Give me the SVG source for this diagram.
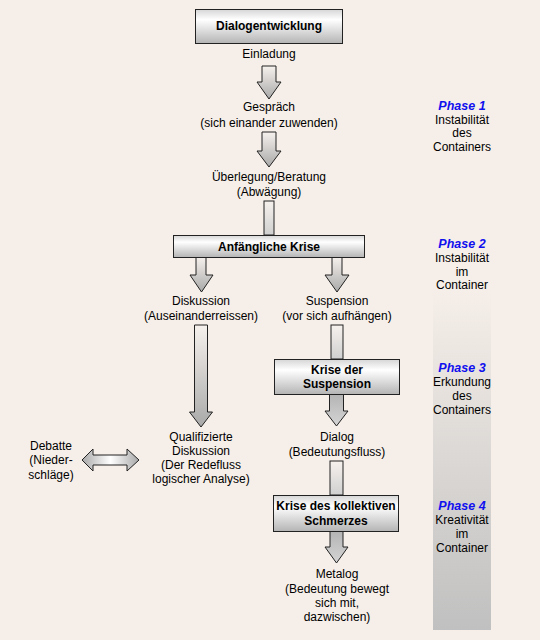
<svg xmlns="http://www.w3.org/2000/svg" width="540" height="640" viewBox="0 0 540 640">
<defs>
<linearGradient id="gBox" x1="0" y1="0" x2="0" y2="1">
<stop offset="0" stop-color="#d6d6d6"/><stop offset="0.3" stop-color="#ffffff"/><stop offset="1" stop-color="#b4b4b4"/>
</linearGradient>
<linearGradient id="gDown" x1="0" y1="0" x2="0" y2="1">
<stop offset="0" stop-color="#f6f1ed"/><stop offset="1" stop-color="#a9a9a9"/>
</linearGradient>
<linearGradient id="gShaft" x1="0" y1="0" x2="0" y2="1">
<stop offset="0" stop-color="#f6f1ed"/><stop offset="1" stop-color="#d0d0d0"/>
</linearGradient>
<linearGradient id="gGray" x1="0" y1="0" x2="0" y2="1">
<stop offset="0" stop-color="#b4b4b4"/><stop offset="1" stop-color="#d4d4d4"/>
</linearGradient>
<linearGradient id="gH" x1="0" y1="0" x2="1" y2="0">
<stop offset="0" stop-color="#a8a8a8"/><stop offset="0.5" stop-color="#ffffff"/><stop offset="1" stop-color="#a8a8a8"/>
</linearGradient>
<linearGradient id="gCol" x1="0" y1="0" x2="0" y2="1">
<stop offset="0" stop-color="#f6efe9"/><stop offset="1" stop-color="#c0c0c0"/>
</linearGradient>
</defs>
<style>
text{font-family:"Liberation Sans",Arial,sans-serif;font-size:12px;fill:#000;text-anchor:middle}
.b{font-weight:bold}
.ph{font-weight:bold;font-style:italic;fill:#1010ee;font-size:12.5px}
.box{fill:url(#gBox);stroke:#222;stroke-width:1}
.ar{stroke:#222;stroke-width:1;stroke-linejoin:miter}
</style>
<rect width="540" height="640" fill="#f6efe9"/>
<rect id="phase-column" x="433" y="290" width="58" height="340" fill="url(#gCol)"/>

<g id="connectors">
<path class="ar" fill="url(#gDown)" d="M262,66 H276 V82 H281 L269,99 L257,82 H262 Z"/>
<path class="ar" fill="url(#gDown)" d="M262,132 H276 V151 H281 L269,167 L257,151 H262 Z"/>
<rect class="ar" fill="url(#gShaft)" x="264" y="201" width="10" height="34"/>
<path class="ar" fill="url(#gDown)" d="M196,257 H206 V275 H213 L201.5,292 L190,275 H196 Z"/>
<path class="ar" fill="url(#gDown)" d="M332,257 H342 V275 H349 L337,292 L325,275 H332 Z"/>
<path class="ar" fill="url(#gDown)" d="M194.5,325 H207.5 V412 H212.5 L201,427 L189.5,412 H194.5 Z"/>
<rect class="ar" fill="url(#gShaft)" x="331" y="325" width="12" height="34"/>
<path class="ar" fill="url(#gGray)" d="M329.5,394 H343.5 V411 H348 L336.5,426 L325,411 H329.5 Z"/>
<rect class="ar" fill="url(#gShaft)" x="330" y="461" width="13" height="34"/>
<path class="ar" fill="url(#gGray)" d="M330,531 H343 V547 H348 L336.5,563 L325,547 H330 Z"/>
<path class="ar" fill="url(#gH)" d="M82,460 L93,449 V455 H127 V449 L139,460 L127,471 V465 H93 V471 Z"/>
</g>

<g id="dialogentwicklung"><rect class="box" x="195.5" y="9.5" width="147" height="34"/><text class="b" x="269" y="30">Dialogentwicklung</text></g>
<g id="einladung"><text x="269" y="58">Einladung</text></g>
<g id="gespraech"><text x="269" y="111">Gespräch</text><text x="269" y="127">(sich einander zuwenden)</text></g>
<g id="ueberlegung"><text x="269" y="181">Überlegung/Beratung</text><text x="269" y="196">(Abwägung)</text></g>
<g id="anfaengliche-krise"><rect class="box" x="173.5" y="235.5" width="191" height="22"/><text class="b" x="269" y="251">Anfängliche Krise</text></g>
<g id="diskussion"><text x="201" y="305">Diskussion</text><text x="201" y="320">(Auseinanderreissen)</text></g>
<g id="suspension"><text x="337" y="305">Suspension</text><text x="337" y="320">(vor sich aufhängen)</text></g>
<g id="krise-suspension"><rect class="box" x="274.5" y="359.5" width="125" height="35"/><text class="b" x="337" y="374">Krise der</text><text class="b" x="337" y="388">Suspension</text></g>
<g id="dialog"><text x="337" y="441">Dialog</text><text x="337" y="456">(Bedeutungsfluss)</text></g>
<g id="qualifizierte-diskussion"><text x="201" y="441">Qualifizierte</text><text x="201" y="455">Diskussion</text><text x="201" y="469">(Der Redefluss</text><text x="201" y="483">logischer Analyse)</text></g>
<g id="debatte"><text x="51" y="450">Debatte</text><text x="51" y="464">(Nieder-</text><text x="51" y="479">schläge)</text></g>
<g id="krise-schmerz"><rect class="box" x="273.5" y="495.5" width="125" height="36"/><text class="b" x="336" y="510">Krise des kollektiven</text><text class="b" x="336" y="525">Schmerzes</text></g>
<g id="metalog"><text x="337" y="578">Metalog</text><text x="337" y="593">(Bedeutung bewegt</text><text x="337" y="607">sich mit,</text><text x="337" y="621">dazwischen)</text></g>

<g id="phase1"><text class="ph" x="462" y="110">Phase 1</text><text x="462" y="124">Instabilität</text><text x="462" y="137">des</text><text x="462" y="151">Containers</text></g>
<g id="phase2"><text class="ph" x="462" y="248">Phase 2</text><text x="462" y="262">Instabilität</text><text x="462" y="276">im</text><text x="462" y="289">Container</text></g>
<g id="phase3"><text class="ph" x="462" y="372">Phase 3</text><text x="462" y="386">Erkundung</text><text x="462" y="400">des</text><text x="462" y="414">Containers</text></g>
<g id="phase4"><text class="ph" x="462" y="510">Phase 4</text><text x="462" y="524">Kreativität</text><text x="462" y="538">im</text><text x="462" y="552">Container</text></g>
</svg>
